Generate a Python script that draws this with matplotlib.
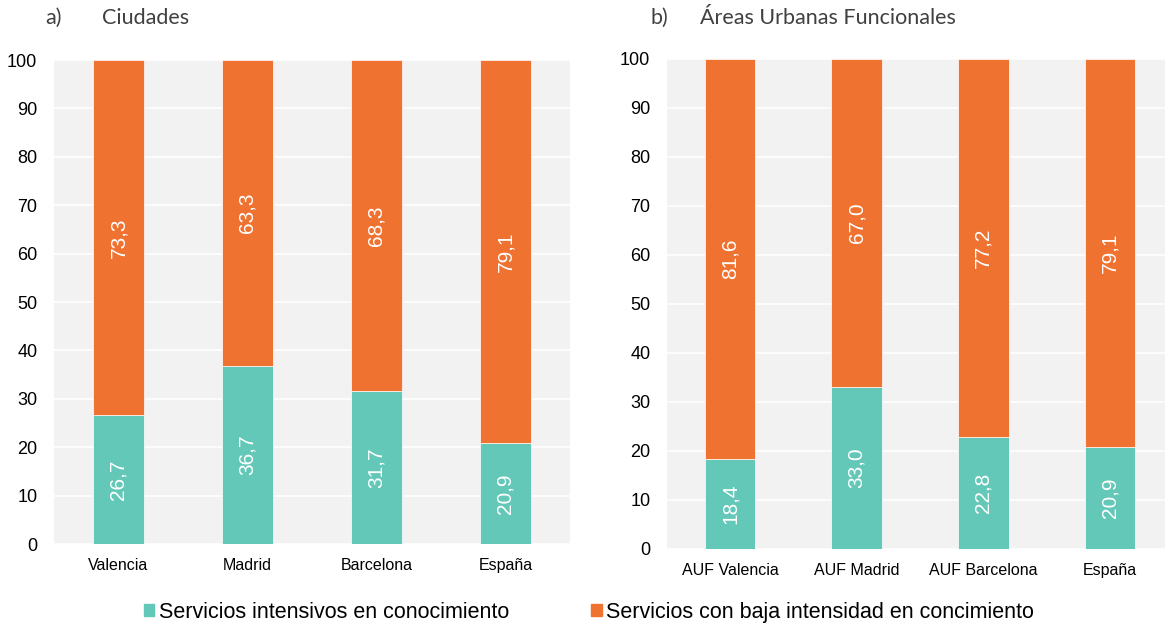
import matplotlib
matplotlib.use('agg')
import matplotlib.pyplot as plt
from matplotlib.patches import Patch
import numpy as np

cities = ['Valencia', 'Madrid', 'Barcelona', 'España']
cities_high = [26.7, 36.7, 31.7, 20.9]
cities_low = [73.3, 63.3, 68.3, 79.1]

auf = ['AUF Valencia', 'AUF Madrid', 'AUF Barcelona', 'España']
auf_high = [18.4, 33.0, 22.8, 20.9]
auf_low = [81.6, 67.0, 77.2, 79.1]

series_names = ['Servicios intensivos en conocimiento',
                'Servicios con baja intensidad en concimiento']

teal = '#64c8b8'
orange = '#f07230'
bg = '#f2f2f2'

plt.rcParams['font.family'] = ['Liberation Sans', 'DejaVu Sans']

fig = plt.figure(figsize=(11.68, 6.24), dpi=100)
ax1 = fig.add_axes([0.0462, 0.1282, 0.4418, 0.7756])
ax2 = fig.add_axes([0.571, 0.1202, 0.4264, 0.7853])


def fmt(v):
    return ('%.1f' % v).replace('.', ',')


def draw(ax, cats, high, low, xlim):
    x = np.arange(len(cats))
    ax.set_facecolor(bg)
    ax.bar(x, high, width=0.4, color=teal, edgecolor='white', linewidth=0.5, zorder=3)
    ax.bar(x, low, width=0.4, bottom=high, color=orange, edgecolor='white', linewidth=0.5, zorder=3)
    for xi, h, l in zip(x, high, low):
        ax.text(xi, h / 2, fmt(h), rotation=90, color='white', fontsize=15,
                ha='center', va='center', zorder=4)
        ax.text(xi, h + l / 2, fmt(l), rotation=90, color='white', fontsize=15,
                ha='center', va='center', zorder=4)
    ax.set_ylim(0, 100)
    ax.set_xlim(*xlim)
    ax.set_yticks(np.arange(0, 101, 10))
    ax.yaxis.grid(True, color='white', linewidth=1.2, zorder=0)
    ax.set_axisbelow(True)
    ax.set_xticks(x)
    ax.set_xticklabels(cats, fontsize=11.5)
    ax.tick_params(axis='y', labelsize=13, length=0, pad=12)
    ax.tick_params(axis='x', length=0, pad=10)
    for s in ax.spines.values():
        s.set_visible(False)


draw(ax1, cities, cities_high, cities_low, (-0.5, 3.5))
draw(ax2, auf, auf_high, auf_low, (-0.497, 3.434))

title_font = ['Lato', 'DejaVu Sans']
fig.text(45 / 1168, 1 - 18 / 624, 'a)', fontsize=15.5, color='#404040',
         family=title_font, va='center')
fig.text(102 / 1168, 1 - 18 / 624, 'Ciudades', fontsize=15.5, color='#404040',
         family=title_font, va='center')
fig.text(651 / 1168, 1 - 18 / 624, 'b)', fontsize=15.5, color='#404040',
         family=title_font, va='center')
fig.text(700 / 1168, 1 - 18 / 624, 'Áreas Urbanas Funcionales', fontsize=15.5, color='#404040',
         family=title_font, va='center')

handles = [Patch(color=teal), Patch(color=orange)]
fig.legend(handles, series_names, loc='center', bbox_to_anchor=(0.504, 0.019),
           ncol=2, frameon=False, fontsize=15.5, handlelength=0.5, handleheight=0.5,
           handletextpad=0.2, columnspacing=3.8)

fig.savefig('out.png', dpi=100)
